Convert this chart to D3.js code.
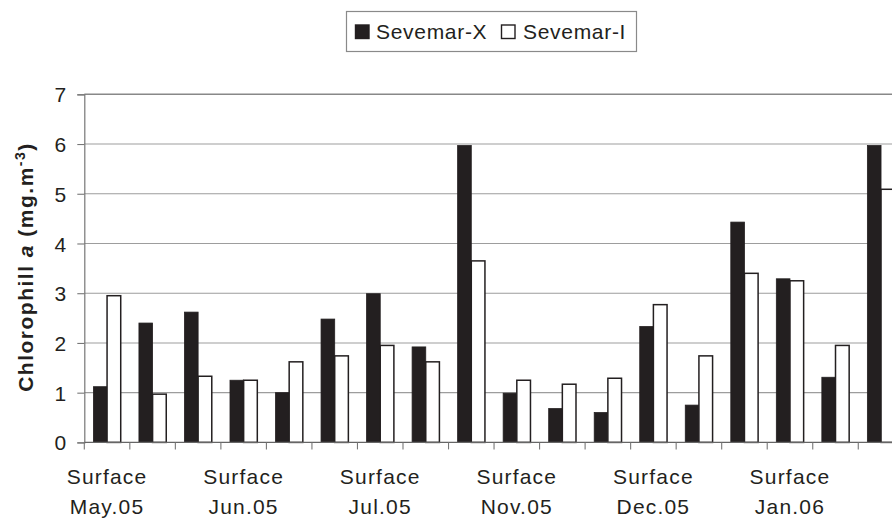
<!DOCTYPE html>
<html>
<head>
<meta charset="utf-8">
<script src="https://cdn.jsdelivr.net/npm/d3@7"></script>
<style>
  html, body { margin: 0; padding: 0; background: #fff; overflow: hidden; }
  svg { display: block; font-family: "Liberation Sans", Arial, sans-serif; }
</style>
</head>
<body>
<svg id="chart" width="892" height="518"></svg>
<script>
// Chlorophyll a, three stations per sampling month
const months = ["May.05", "Jun.05", "Jul.05", "Nov.05", "Dec.05", "Jan.06"];
const groupLabel = "Surface";
const stationsPerMonth = 3;
const seriesNames = ["Sevemar-X", "Sevemar-I"];
const sevemarX = [1.12, 2.40, 2.62, 1.25, 1.00, 2.48, 2.99, 1.92, 5.97, 0.99, 0.68, 0.60, 2.33, 0.75, 4.43, 3.29, 1.31, 5.97];
const sevemarI = [2.95, 0.97, 1.33, 1.25, 1.62, 1.74, 1.95, 1.62, 3.65, 1.25, 1.17, 1.29, 2.77, 1.74, 3.40, 3.25, 1.95, 5.09];
const yTicks = [0, 1, 2, 3, 4, 5, 6, 7];

const svg = d3.select("#chart");
const ink = "#231f20";
const plotLeft = 84.3, plotRight = 903.8, plotTop = 94.3, plotBottom = 442.4;

const cats = d3.range(sevemarX.length);
const x0 = d3.scaleBand().domain(cats).range([plotLeft, plotRight]).paddingInner(0).paddingOuter(0);
const x1 = d3.scaleBand().domain(seriesNames).range([0, x0.bandwidth()]).paddingInner(0).paddingOuter(0.667);
const y = d3.scaleLinear().domain([0, 7]).range([plotBottom, plotTop]);

// horizontal gridlines
svg.append("g").selectAll("line").data(yTicks.filter(d => d > 0)).join("line")
  .attr("x1", plotLeft).attr("x2", plotRight)
  .attr("y1", d => y(d)).attr("y2", d => y(d))
  .attr("stroke", d => d === 7 ? "#888" : "#9d9d9d")
  .attr("stroke-width", d => d === 7 ? 1.6 : 1.1);

// bars
const rows = cats.map(i => ({ i, values: [sevemarX[i], sevemarI[i]] }));
const groups = svg.append("g").selectAll("g").data(rows).join("g")
  .attr("transform", d => `translate(${x0(d.i)},0)`);
groups.selectAll("rect").data(d => d.values.map((v, k) => ({ key: seriesNames[k], v, k })))
  .join("rect")
  .attr("x", d => x1(d.key))
  .attr("width", x1.bandwidth())
  .attr("y", d => y(d.v))
  .attr("height", d => plotBottom - y(d.v))
  .attr("fill", d => d.k === 0 ? ink : "#fff")
  .attr("stroke", ink)
  .attr("stroke-width", d => d.k === 0 ? 0.8 : 1.5);

// y axis
const yAxis = d3.axisLeft(y).tickValues(yTicks).tickSize(7).tickPadding(11).tickFormat(d3.format("d"));
const gy = svg.append("g").attr("transform", `translate(${plotLeft},0)`).call(yAxis);
gy.select(".domain").attr("stroke", "#777").attr("stroke-width", 1.2);
gy.selectAll(".tick line").attr("stroke", "#777").attr("stroke-width", 1.1);
gy.selectAll(".tick text").attr("font-size", 21).attr("fill", ink)
  .attr("font-family", "Liberation Sans, Arial, sans-serif").attr("dy", "0.36em");

// x axis: ticks on category boundaries
const bounds = d3.range(sevemarX.length + 1).map(i => plotLeft + i * x0.step());
svg.append("line").attr("x1", plotLeft).attr("x2", plotRight).attr("y1", plotBottom).attr("y2", plotBottom)
  .attr("stroke", "#666").attr("stroke-width", 1.3);
svg.append("g").selectAll("line").data(bounds).join("line")
  .attr("x1", d => d).attr("x2", d => d).attr("y1", plotBottom).attr("y2", plotBottom + 7)
  .attr("stroke", "#777").attr("stroke-width", 1.1);

// category labels under the first station of each month
const labelX = k => x0(k * stationsPerMonth) + x0.bandwidth() / 2;
const lab = svg.append("g").selectAll("text").data(months).join("text")
  .attr("text-anchor", "middle").attr("font-size", 21).attr("fill", ink)
  .attr("letter-spacing", 1.2);
lab.append("tspan").attr("x", (m, k) => labelX(k)).attr("y", 483.5).text(groupLabel);
lab.append("tspan").attr("x", (m, k) => labelX(k)).attr("y", 513.5).text(m => m);

// y axis title
const yt = svg.append("text")
  .attr("transform", "translate(33,267) rotate(-90)")
  .attr("text-anchor", "middle").attr("font-size", 21).attr("font-weight", "bold")
  .attr("fill", ink).attr("letter-spacing", 1.5);
yt.append("tspan").text("Chlorophill ");
yt.append("tspan").attr("font-style", "italic").text("a");
yt.append("tspan").text(" (mg.m");
yt.append("tspan").attr("font-size", 14).attr("dy", -8).text("-3");
yt.append("tspan").attr("dy", 8).text(")");

// legend
const lg = svg.append("g");
lg.append("rect").attr("x", 346.5).attr("y", 11.5).attr("width", 290).attr("height", 40)
  .attr("fill", "#fff").attr("stroke", "#8a8a8a").attr("stroke-width", 1.2);
const legendItems = [
  { name: seriesNames[0], sx: 355.5, tx: 376, fill: ink },
  { name: seriesNames[1], sx: 501.5, tx: 523, fill: "#fff" }
];
lg.selectAll("rect.key").data(legendItems).join("rect").attr("class", "key")
  .attr("x", d => d.sx).attr("y", 25).attr("width", 13.5).attr("height", 13.5)
  .attr("fill", d => d.fill).attr("stroke", ink).attr("stroke-width", 1.4);
lg.selectAll("text").data(legendItems).join("text")
  .attr("x", d => d.tx).attr("y", 38.5).attr("font-size", 21).attr("fill", ink)
  .attr("letter-spacing", 0.7).text(d => d.name);
</script>
</body>
</html>
